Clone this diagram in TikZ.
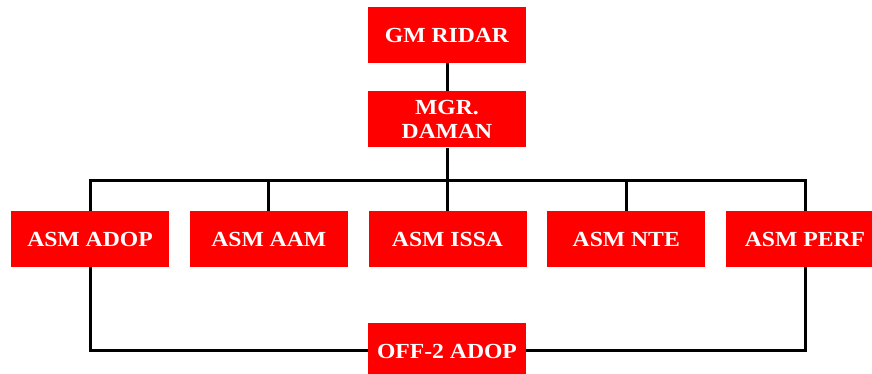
\documentclass[tikz,border=0pt]{standalone}
\usepackage{fontspec}
\newfontfamily\boxfont[FakeStretch=1.1]{Liberation Serif}
\tikzset{
  post/.style={fill=red, text=white, minimum width=158pt, minimum height=56pt,
    inner sep=0pt, align=center, font=\boxfont\bfseries\fontsize{21.5}{24}\selectfont},
  link/.style={black, line width=3pt}
}
\begin{document}
\begin{tikzpicture}[x=1pt, y=1pt]
    % --- 画布大小 ---
    \useasboundingbox (0,0) rectangle (872,374);
    \clip (0,0) rectangle (872,374);

    % --- 参数 ---
    \def\rowY{135}      % ASM 一行的高度
    \def\busY{193}      % 横向总线
    \def\gap{178.75}    % ASM 方框间距

    % --- 上层 ---
    \node[post] (gm)  at (447, 339)   {GM RIDAR};
    \node[post] (mgr) at (447, 254.5) {MGR.\\DAMAN};

    % --- ASM 一行 ---
    \node[post] (adop) at (90, \rowY)          {ASM ADOP};
    \node[post] (aam)  at (90+\gap, \rowY)     {ASM AAM};
    \node[post] (issa) at (90+2*\gap, \rowY)   {ASM ISSA};
    \node[post] (nte)  at (90+3*\gap, \rowY)   {ASM NTE};
    \node[post] (perf) at (90+4*\gap, \rowY)   {ASM PERF};

    % --- 底部 ---
    \node[post] (off) at (447, 23) {OFF-2 ADOP};

    % --- 连线 ---
    \coordinate (bus) at (447, \busY);
    \draw[link] (gm.south) -- (mgr.north);
    \draw[link] (mgr.south) -- (bus);
    \draw[link] (adop.north) |- (bus) -| (perf.north);
    \foreach \n in {aam, issa, nte}
        \draw[link] (\n.north) -- (\n.north |- bus);

    % 底部回路
    \draw[link] (adop.south) |- (off.west);
    \draw[link] (perf.south) |- (off.east);
\end{tikzpicture}
\end{document}
